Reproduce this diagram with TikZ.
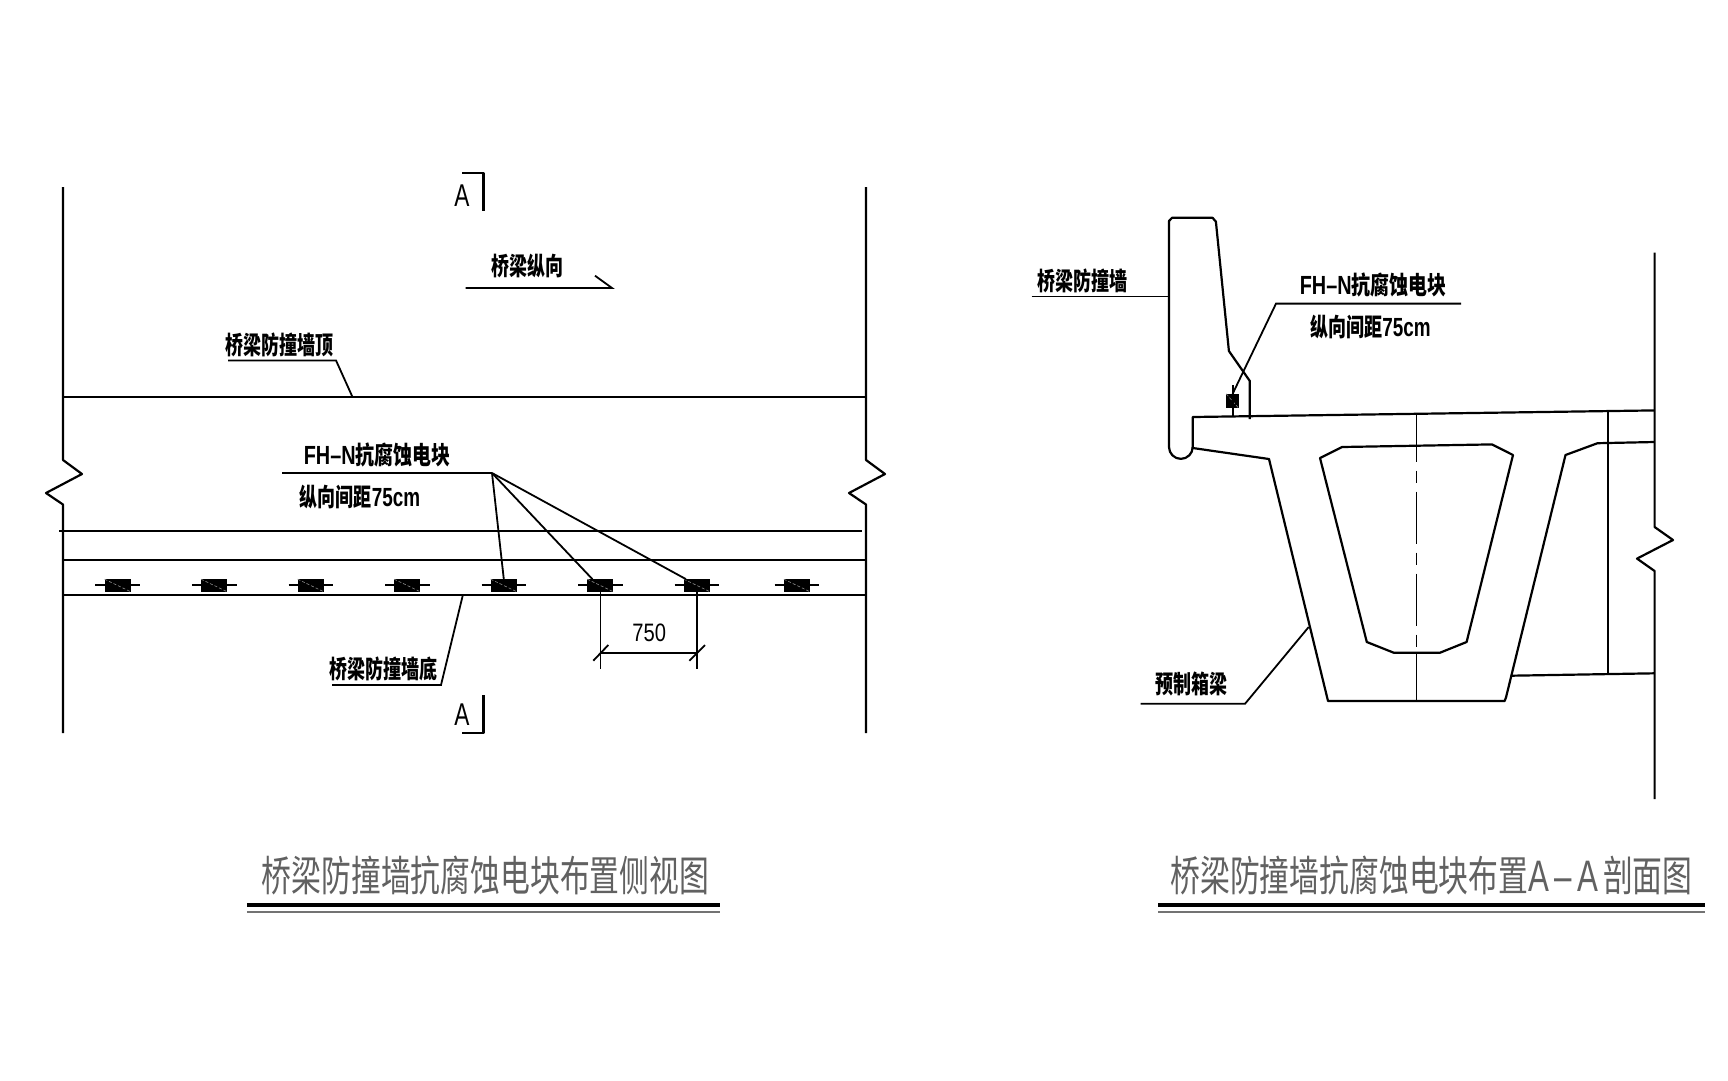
\documentclass[tikz,border=0pt]{standalone}
\usepackage{fontspec}
\setmainfont{Liberation Sans}[Scale=1.05]
\newfontfamily\cjk{Noto Sans CJK SC}
\usetikzlibrary{positioning,calc}
\tikzset{
  wallline/.style={line width=2.2pt,line join=round},
  leaderline/.style={line width=1.8pt,line join=miter},
  callout/.style={inner sep=0pt,xscale=.72,font=\fontsize{25}{25}\selectfont\bfseries},
  sectionmark/.style={inner sep=0pt,xscale=.72,font=\fontsize{30}{30}\selectfont},
  dimtext/.style={inner sep=0pt,xscale=.8,font=\fontsize{24}{24}\selectfont},
  viewtitle/.style={inner sep=0pt,xscale=.71,text=black!62,font=\fontsize{42}{42}\selectfont},
  anodeblock/.style={fill=black,minimum width=26pt,minimum height=12.3pt,inner sep=0pt},
}
\begin{document}
\begin{tikzpicture}[x=1pt,y=-1pt]
    \useasboundingbox (0,0) rectangle (1728,1080);
    % side view
    \foreach \wx/\wname in {63/wl,866/wr} {
      \draw[wallline] (\wx,187) -- (\wx,460) -- ++(19,14) -- ++(-36,19) -- ++(17,11.5) -- (\wx,733);
      \coordinate (\wname) at (\wx,0);
    }
    \coordinate (wt) at (352.5,397);
    \draw[wallline] (wl |- wt) -- (wr |- wt);
    \draw[wallline] (59,531) -- (862,531);
    \draw[wallline] (63,560) -- (866,560);
    \draw[wallline] (63,595) -- (866,595);
    \foreach \i [count=\n] in {117.7,214.2,310.8,407.3,503.8,600.4,697,797} {
      \draw[line width=1.6pt] (\i-22.3,585) -- (\i+22.3,585);
      \node[anodeblock] (blk\n) at (\i,585.5) {};
      \draw[black!45,line width=.6pt,dash pattern=on 3pt off 2pt] (blk\n.north west) -- (blk\n.south east);
    }
    % section marks
    \node[sectionmark] (secA) at (462,195.5) {A};
    \node[sectionmark] (secB) at (462,714.5) {A};
    \draw[wallline] (462,173) -- (483.4,173) -- (483.4,211);
    \draw[wallline] (483.4,695) -- (483.4,733) -- (462,733);
    % labels
    \node[callout] (dirlabel) at (527,266) {\cjk 桥梁纵向};
    \draw[leaderline] (465.5,288) -- (612,288) -- (595,275.7);
    \node[callout] (toplabel) at (279.6,345) {\cjk 桥梁防撞墙顶};
    \draw[leaderline] (228,360.4) -- (336,360.4) -- (wt);
    \node[callout,xscale=1.05] (fhlabel) at (377,455) {FH–N{\cjk 抗腐蚀电块}};
    \node[callout] (gaplabel) at (360,497) {{\cjk 纵向间距}75cm};
    \coordinate (fhelbow) at (492,473);
    \draw[leaderline] (282,473) -- (fhelbow);
    \draw[leaderline] (fhelbow) -- (blk5.north);
    \draw[leaderline] (fhelbow) -- ([xshift=-8pt]blk6.north);
    \draw[leaderline] (fhelbow) -- ([xshift=-11pt]blk7.north);
    \node[callout] (botlabel) at (383.5,668.8) {\cjk 桥梁防撞墙底};
    \draw[leaderline] (462.7,595.6) -- (441,685) -- (332,685);
    % dimension
    \draw[leaderline] (blk6.south) -- (600.4,669);
    \draw[leaderline] (blk7.south) -- (697,669);
    \draw[leaderline] (600.4,652.7) -- (697,652.7);
    \draw[leaderline] (593.3,660.7) -- (608.3,645);
    \draw[leaderline] (689.3,660.7) -- (705,645);
    \node[dimtext] (dimval) at (649.3,633) {750};
    % section view
    \draw[wallline] (1192.7,448) -- (1192.7,417) -- (1654.6,410.4);
    \draw[wallline] (1192.7,447) arc (0:180:11.85) -- (1169,221) -- (1172,217.8) -- (1212.6,217.8) -- (1215.9,221.7)
      -- (1228.9,351) -- (1249.8,381) -- (1249.8,419);
    \draw[wallline] (1192.7,448) -- (1269,459) -- (1328,701) -- (1504.6,701) -- (1506,697.4) -- (1565.5,455)
      -- (1597.5,443.2) -- (1654.6,442);
    \draw[wallline] (1320,458) -- (1342,447) -- (1492,444.4) -- (1513,455) -- (1466.6,642) -- (1440,652.7)
      -- (1393.7,652.7) -- (1366.8,642) -- cycle;
    \draw[wallline] (1608,411) -- (1608,673.5);
    \draw[wallline] (1510.7,675.7) -- (1654.6,673.3);
    \draw[wallline] (1654.6,252.6) -- (1654.6,527) -- (1673,540) -- (1637,558.6) -- (1654.6,571) -- (1654.6,799);
    % centre line
    \draw[leaderline] (1416.4,415) -- (1416.4,445);
    \draw[leaderline,dash pattern=on 52pt off 9pt on 12pt off 9pt,dash phase=35.3pt] (1416.4,445) -- (1416.4,652.7);
    \draw[leaderline] (1416.4,652.7) -- (1416.4,701);
    % block on deck
    \node[anodeblock,minimum width=12.3pt,minimum height=14.3pt] (blkdeck) at (1232.6,401.2) {};
    \draw[black!45,line width=.6pt,dash pattern=on 3pt off 2pt] (blkdeck.north west) -- (blkdeck.south east);
    \draw[leaderline] (1232.6,385) -- (1232.6,417);
    % section labels
    \node[callout] (walllabel) at (1082.4,281) {\cjk 桥梁防撞墙};
    \draw[leaderline] (1031.6,296.5) -- (1169,296.5);
    \node[callout,xscale=1.05] (fhlabelb) at (1373,285) {FH–N{\cjk 抗腐蚀电块}};
    \node[callout] (gaplabelb) at (1370.4,327) {{\cjk 纵向间距}75cm};
    \draw[leaderline] (1461,303.6) -- (1276,303.6) -- (blkdeck.north);
    \node[callout] (beamlabel) at (1191.5,684.4) {\cjk 预制箱梁};
    \draw[leaderline] (1140.7,703.8) -- (1245,703.8) -- (1308.7,627);
    % titles
    \node[viewtitle] (titlea) at (485.5,875) {\cjk 桥梁防撞墙抗腐蚀电块布置侧视图};
    \node[viewtitle] (titleb) at (1431.5,875) {{\cjk 桥梁防撞墙抗腐蚀电块布置}A\,–\,A\,{\cjk 剖面图}};
    \draw[line width=3.8pt] (246.8,905) -- (719.5,905);
    \draw[line width=2pt,black!55] (246.8,912) -- (719.5,912);
    \draw[line width=3.8pt] (1158,905) -- (1705,905);
    \draw[line width=2pt,black!55] (1158,912) -- (1705,912);
\end{tikzpicture}
\end{document}
